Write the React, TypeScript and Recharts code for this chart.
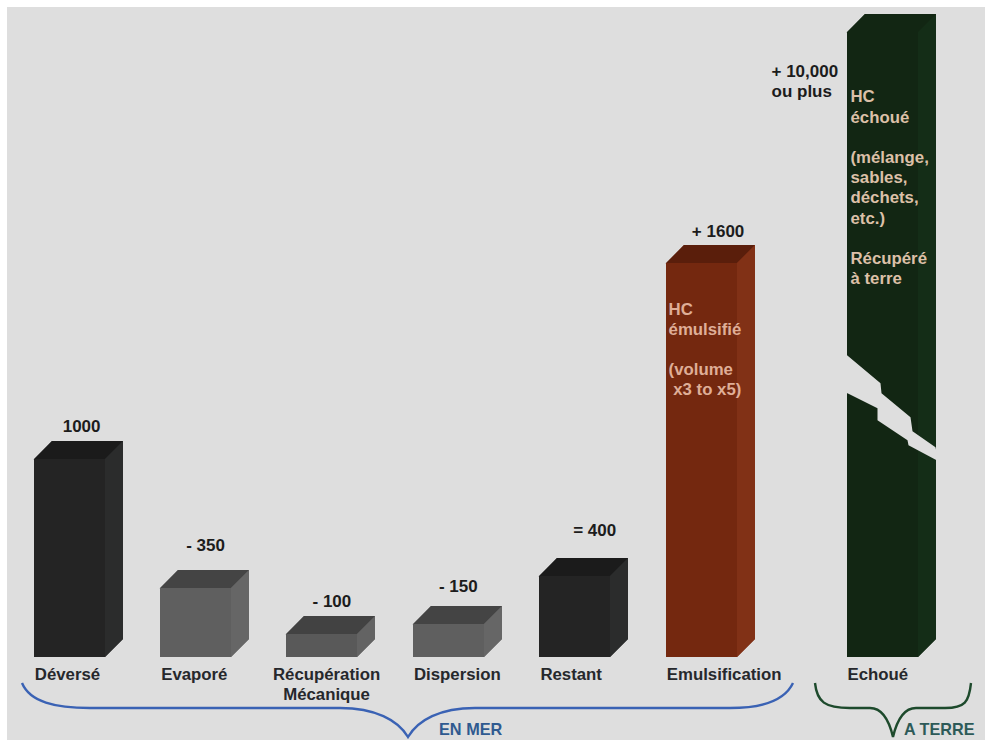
import React from "react";
import { BarChart, Bar, XAxis, YAxis, LabelList } from "recharts";

// Categories and drawn bar heights (the source picture is not drawn to scale with its labels)
const seaCategories = ["Déversé", "Evaporé", "Récupération|Mécanique", "Dispersion", "Restant", "Emulsification"];
const seaHeights = [1000, 350, 116, 167, 410, 1990];
const seaLabels = ["1000", "- 350", "- 100", "- 150", "= 400", "+ 1600"];
const landCategories = ["Echoué"];
const landHeights = [3155];
const landLabels = ["+ 10,000|ou plus"];

const emulsionNote = ["HC", "émulsifié", "", "(volume", " x3 to x5)"];
const strandedNote = ["HC", "échoué", "", "(mélange,", "sables,", "déchets,", "etc.)", "", "Récupéré", "à terre"];

const FONT = '"Liberation Sans", Arial, sans-serif';
const DEPTH = 18;
const MAX = 3200;

type Tone = { front: string; side: string; top: string };
const BLACK: Tone = { front: "#242424", side: "#2b2c2c", top: "#1b1b1b" };
const GREY: Tone = { front: "#5f5f5f", side: "#666666", top: "#444444" };
const DGREY: Tone = { front: "#595959", side: "#636363", top: "#424242" };
const RUST: Tone = { front: "#74280f", side: "#813116", top: "#5a1e0b" };
const GREEN: Tone = { front: "#122613", side: "#142d17", top: "#122613" };
const seaTones = [BLACK, GREY, DGREY, GREY, BLACK, RUST];
const landTones = [GREEN];

const seaLabelShift = [
  [12.5, -27],
  [10, -37],
  [10, -27],
  [10, -32],
  [20, -40],
  [17, -26],
];

const box = (tones: Tone[]) => (p: any) => {
  const x = Math.round(p.x);
  const y = Math.round(p.y);
  const w = Math.round(p.width);
  const h = Math.round(p.y + p.height) - y;
  const t = tones[p.index];
  const d = DEPTH;
  return (
    <g shapeRendering="geometricPrecision">
      <polygon points={`${x},${y + 0.5} ${x + d},${y - d} ${x + w + d},${y - d} ${x + w + d},${y + h - d} ${x + w},${y + h} ${x},${y + h}`} fill={t.front} />
      <polygon points={`${x},${y} ${x + d},${y - d} ${x + w + d},${y - d} ${x + w},${y}`} fill={t.top} />
      <polygon points={`${x + w},${y} ${x + w + d},${y - d} ${x + w + d},${y + h - d} ${x + w},${y + h}`} fill={t.side} />
      <rect x={x} y={y} width={w} height={h} fill={t.front} />
    </g>
  );
};

const note = (lines: string[], px: number, py: number, fill: string, step: number) => (
  <text x={px} y={py} fontFamily={FONT} fontWeight={700} fontSize={16.8} fill={fill} xmlSpace="preserve">
    {lines.map((l, i) => (
      <tspan key={i} x={px} y={py + i * step} xmlSpace="preserve">
        {l || " "}
      </tspan>
    ))}
  </text>
);

const seaShape = (p: any) => {
  const base = box(seaTones)(p);
  return (
    <g>
      {base}
      {p.index === 5 ? note(emulsionNote, p.x + 3, p.y + 52, "#dfae97", 20) : null}
    </g>
  );
};

const landShape = (p: any) => {
  const base = box(landTones)(p);
  const ox = p.x;
  const oy = p.y;
  const crack = [
    [-3, 320], [34, 351], [35, 361], [64, 385], [66, 399], [89, 415], [92, 429],
    [62, 413], [61, 408], [31, 388], [31, 376], [1, 361], [-3, 361],
  ]
    .map(([a, b]) => `${ox + a},${oy + b}`)
    .join(" ");
  return (
    <g>
      {base}
      <polygon points={crack} fill="#dedede" />
      {note(strandedNote, p.x + 4, p.y + 70, "#dcc0a8", 20.2)}
    </g>
  );
};

const seaLabel = (p: any) => {
  const [dx, dy] = seaLabelShift[p.index];
  return (
    <text x={p.x + p.width / 2 + dx} y={p.y + dy} textAnchor="middle" fontFamily={FONT} fontWeight={700} fontSize={17} fill="#1c1c1c">
      {p.value}
    </text>
  );
};

const landLabel = (p: any) => {
  const lines = String(p.value).split("|");
  const lx = p.x + p.width / 2 - 110.5;
  return (
    <text fontFamily={FONT} fontWeight={700} fontSize={17} fill="#1c1c1c">
      {lines.map((l, i) => (
        <tspan key={i} x={lx} y={p.y + 45 + i * 20}>
          {l}
        </tspan>
      ))}
    </text>
  );
};

const catTick = (p: any) => {
  const lines = String(p.payload.value).split("|");
  const two = lines.length > 1;
  return (
    <text fontFamily={FONT} fontWeight={700} fontSize={16.8} fill="#26282c" textAnchor={two ? "middle" : "start"}>
      {lines.map((l, i) => (
        <tspan key={i} x={two ? p.x + 5 : p.x - 34} y={680 + i * 20}>
          {l}
        </tspan>
      ))}
    </text>
  );
};

const seaData = seaCategories.map((name, i) => ({ name, value: seaHeights[i], label: seaLabels[i] }));
const landData = landCategories.map((name, i) => ({ name, value: landHeights[i], label: landLabels[i] }));

const layer: React.CSSProperties = { position: "absolute", left: 0, top: 0 };

export default function App() {
  return (
    <div style={{ position: "absolute", left: 0, top: 0, width: 989, height: 740, background: "#ffffff", overflow: "hidden" }}>
      <div style={{ position: "absolute", left: 7, top: 7, width: 978, height: 733, background: "#dedede" }} />
      <div style={layer}>
        <BarChart width={989} height={740} data={seaData} margin={{ top: 23.4, bottom: 0, left: 5.6, right: 225 }} barSize={71}>
          <XAxis dataKey="name" height={83} axisLine={false} tickLine={false} interval={0} tick={catTick} />
          <YAxis hide domain={[0, MAX]} />
          <Bar dataKey="value" isAnimationActive={false} shape={seaShape}>
            <LabelList dataKey="label" content={seaLabel} />
          </Bar>
        </BarChart>
      </div>
      <div style={layer}>
        <BarChart width={989} height={740} data={landData} margin={{ top: 23.4, bottom: 0, left: 818.5, right: 44.5 }} barSize={71}>
          <XAxis dataKey="name" height={83} axisLine={false} tickLine={false} interval={0} tick={catTick} />
          <YAxis hide domain={[0, MAX]} />
          <Bar dataKey="value" isAnimationActive={false} shape={landShape}>
            <LabelList dataKey="label" content={landLabel} />
          </Bar>
        </BarChart>
      </div>
      <svg width={989} height={740} style={layer}>
        <path
          d="M22,683 C30,702 55,708 90,708 L340,708 C375,708 398,720 408,737 C418,720 440,708 475,708 L730,708 C765,708 785,700 793,683"
          fill="none"
          stroke="#3a62b4"
          strokeWidth={2.4}
        />
        <path
          d="M815,683 C817,702 825,708 850,708 L870,708 C882,708 889,720 893,737 C897,720 904,708 916,708 L945,708 C965,708 969,702 971,683"
          fill="none"
          stroke="#1d4a2c"
          strokeWidth={2.4}
        />
        <text x={439} y={735} fontFamily={FONT} fontWeight={700} fontSize={16.3} fill="#2f5a90">EN MER</text>
        <text x={904} y={735} fontFamily={FONT} fontWeight={700} fontSize={16.2} fill="#2d5a58">A TERRE</text>
      </svg>
    </div>
  );
}
